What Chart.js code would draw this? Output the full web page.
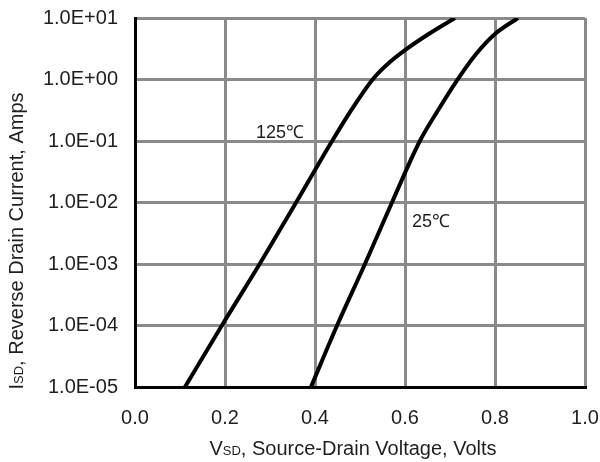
<!DOCTYPE html>
<html lang="en">
<head>
<meta charset="UTF-8">
<title>Reverse Drain Current</title>
<script src="https://cdn.jsdelivr.net/npm/chart.js"></script>
<style>
    html, body { margin: 0; padding: 0; background: #fff; }
    #wrap { width: 600px; height: 462px; }
</style>
</head>
<body>
<div id="wrap"><canvas id="myChart" width="600" height="462"></canvas></div>
<script>
// axis ticks
const voltTicks = [0, 0.2, 0.4, 0.6, 0.8, 1.0];
const currentTicks = [1e-5, 1e-4, 1e-3, 1e-2, 1e-1, 1, 10];

// 125C curve
const v125 = [0.111, 0.193, 0.277, 0.358, 0.438, 0.482, 0.529, 0.564, 0.6, 0.656, 0.711];
const i125 = [1e-5, 1e-4, 1e-3, 1e-2, 1e-1, 0.33, 1.02, 1.85, 3.0, 5.7, 10];

// 25C curve
const v25 = [0.391, 0.449, 0.511, 0.571, 0.633, 0.671, 0.716, 0.758, 0.8, 0.851];
const i25 = [1e-5, 1e-4, 1e-3, 1e-2, 1e-1, 0.296, 0.98, 2.6, 5.5, 10];

// curve labels: text, x value, y value
const curveLabels = [
    { text: '125\u2103', x: 0.322, y: 0.135 },
    { text: '25\u2103', x: 0.658, y: 0.0048 }
];

const FONT = "'Liberation Sans', Arial, sans-serif";

function toPts(xs, ys) {
    return xs.map((x, i) => ({ x: x, y: ys[i] }));
}

function sciLabel(v) {
    let exp = Math.round(Math.log10(v));
    let mant = v / Math.pow(10, exp);
    let sign = exp < 0 ? '-' : '+';
    let e = Math.abs(exp);
    return mant.toFixed(1) + 'E' + sign + (e < 10 ? '0' + e : e);
}

// draw text pieces one after another (for the SD subscript)
function drawSub(ctx, x, y, parts) {
    parts.forEach(p => {
        ctx.font = p.size + 'px ' + FONT;
        ctx.fillText(p.t, x, y + (p.dy || 0));
        x += ctx.measureText(p.t).width;
    });
}
function subWidth(ctx, parts) {
    let w = 0;
    parts.forEach(p => {
        ctx.font = p.size + 'px ' + FONT;
        w += ctx.measureText(p.t).width;
    });
    return w;
}

const titlePlugin = {
    id: 'titles',
    afterDraw(chart) {
        const ctx = chart.ctx;
        const xs = chart.scales.x, ys = chart.scales.y;
        ctx.save();
        ctx.fillStyle = '#1e1e1e';
        ctx.textBaseline = 'middle';
        ctx.textAlign = 'left';

        // x title
        let xp = [{ t: 'V', size: 20 }, { t: 'SD', size: 13, dy: 2 }, { t: ', Source-Drain Voltage, Volts', size: 20 }];
        let w = subWidth(ctx, xp);
        drawSub(ctx, 353 - w / 2, 449, xp);

        // y title, rotated
        let yp = [{ t: 'I', size: 20 }, { t: 'SD', size: 13, dy: 2 }, { t: ', Reverse Drain Current, Amps', size: 20 }];
        w = subWidth(ctx, yp);
        ctx.translate(17, 241);
        ctx.rotate(-Math.PI / 2);
        drawSub(ctx, -w / 2, 0, yp);
        ctx.restore();

        // curve labels
        ctx.save();
        ctx.fillStyle = '#1e1e1e';
        ctx.font = '18px ' + FONT;
        ctx.textBaseline = 'middle';
        ctx.textAlign = 'center';
        curveLabels.forEach(l => {
            ctx.fillText(l.text, xs.getPixelForValue(l.x), ys.getPixelForValue(l.y));
        });
        ctx.restore();
    }
};

const ctx = document.getElementById('myChart');
new Chart(ctx, {
    type: 'line',
    data: {
        datasets: [{
            label: '125C',
            data: toPts(v125, i125),
            borderColor: '#000',
            borderWidth: 4,
            borderJoinStyle: 'round',
            pointRadius: 0,
            cubicInterpolationMode: 'monotone',
            fill: false
        }, {
            label: '25C',
            data: toPts(v25, i25),
            borderColor: '#000',
            borderWidth: 4,
            borderJoinStyle: 'round',
            pointRadius: 0,
            cubicInterpolationMode: 'monotone',
            fill: false
        }]
    },
    options: {
        responsive: false,
        animation: false,
        devicePixelRatio: 1,
        layout: { padding: { top: 18, right: 15, left: 0, bottom: 0 } },
        plugins: {
            legend: { display: false },
            tooltip: { enabled: false }
        },
        scales: {
            x: {
                type: 'linear',
                min: 0,
                max: 1,
                afterBuildTicks: (s) => { s.ticks = voltTicks.map(v => ({ value: v })); },
                afterFit: (s) => { s.height = 75; s.paddingLeft = 0; s.paddingRight = 0; },
                ticks: {
                    color: '#1e1e1e',
                    font: { family: FONT, size: 20 },
                    padding: 19,
                    maxRotation: 0,
                    callback: (v) => Number(v).toFixed(1)
                },
                grid: { color: '#8a8a8a', lineWidth: 3, drawTicks: false },
                border: { color: '#000', width: 3 }
            },
            y: {
                type: 'logarithmic',
                min: 1e-5,
                max: 10,
                afterBuildTicks: (s) => { s.ticks = currentTicks.map(v => ({ value: v })); },
                afterFit: (s) => { s.width = 135; s.paddingTop = 0; s.paddingBottom = 0; },
                ticks: {
                    color: '#1e1e1e',
                    font: { family: FONT, size: 20 },
                    padding: 17,
                    callback: (v) => sciLabel(v)
                },
                grid: { color: '#8a8a8a', lineWidth: 3, drawTicks: false },
                border: { color: '#000', width: 3 }
            }
        }
    },
    plugins: [titlePlugin]
});
</script>
</body>
</html>
